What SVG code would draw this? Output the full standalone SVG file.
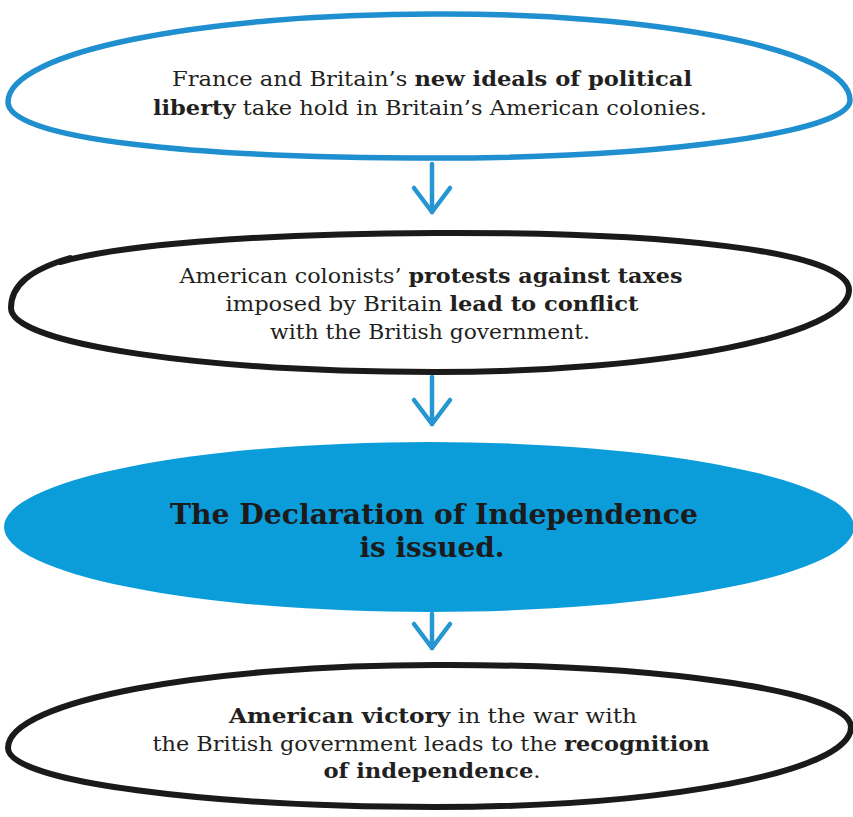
<svg xmlns="http://www.w3.org/2000/svg" width="853" height="817" viewBox="0 0 853 817">
<defs>
<style>
.bg{fill:#ffffff}
.outline-blue{fill:none;stroke:#1f8fcf;stroke-width:5.5;stroke-linecap:round;stroke-linejoin:round}
.outline-black{fill:none;stroke:#1a1a1a;stroke-width:6;stroke-linecap:round;stroke-linejoin:round}
.filled{fill:#0b9cda}
.conn{fill:none;stroke:#2596d1;stroke-width:4.5;stroke-linecap:round}
.txt{font-family:"DejaVu Serif","Liberation Serif",serif;font-size:20px;fill:#231f20;text-anchor:middle}
.b{font-weight:bold}
.title{font-family:"DejaVu Serif","Liberation Serif",serif;font-size:27px;font-weight:bold;fill:#1c1a1b;text-anchor:middle}
</style>
<marker id="head" viewBox="0 0 30 40" markerWidth="30" markerHeight="40" refX="26" refY="20" orient="auto" markerUnits="userSpaceOnUse" overflow="visible">
<path d="M2,2 L26,20 L2,38" fill="none" stroke="#2596d1" stroke-width="4.5" stroke-linecap="round" stroke-linejoin="round"/>
</marker>
</defs>
<rect class="bg" x="0" y="0" width="853" height="817"/>

<g id="connectors">
<path class="conn" d="M432,164 L432,212" marker-end="url(#head)"/>
<path class="conn" d="M432,377 L432,424" marker-end="url(#head)"/>
<path class="conn" d="M432,614 L432,648" marker-end="url(#head)"/>
</g>

<g id="node1">
<path class="outline-blue" d="M8,102 C8,52 200,14 435,14 C650,13 849,48 850,100 C851,132 664,158 435,158 C200,158 8,140 8,102 Z"/>
<text class="txt" x="432" y="86" textLength="520" lengthAdjust="spacingAndGlyphs">France and Britain’s <tspan class="b">new ideals of political</tspan></text>
<text class="txt" x="430" y="115" textLength="554" lengthAdjust="spacingAndGlyphs"><tspan class="b">liberty</tspan> take hold in Britain’s American colonies.</text>
</g>

<g id="node2">
<path class="outline-black" d="M60,262 C120,245 250,234 435,233 C660,232 849,250 849,290 C849,335 664,372 435,372 C210,372 11,345 11,308 C11,285 30,270 70,258"/>
<text class="txt" x="431" y="283" textLength="503" lengthAdjust="spacingAndGlyphs">American colonists’ <tspan class="b">protests against taxes</tspan></text>
<text class="txt" x="432" y="311" textLength="413" lengthAdjust="spacingAndGlyphs">imposed by Britain <tspan class="b">lead to conflict</tspan></text>
<text class="txt" x="430" y="339" textLength="320" lengthAdjust="spacingAndGlyphs">with the British government.</text>
</g>

<g id="node3">
<ellipse class="filled" cx="429" cy="527" rx="425" ry="85"/>
<text class="title" x="434" y="524" textLength="528" lengthAdjust="spacingAndGlyphs">The Declaration of Independence</text>
<text class="title" x="432" y="557" textLength="145" lengthAdjust="spacingAndGlyphs">is issued.</text>
</g>

<g id="node4">
<path class="outline-black" d="M8,748 C8,700 210,665 435,665 C650,664 851,690 851,727 C851,772 664,807 435,807 C210,807 8,782 8,748 Z"/>
<text class="txt" x="433" y="723" textLength="408" lengthAdjust="spacingAndGlyphs"><tspan class="b">American victory</tspan> in the war with</text>
<text class="txt" x="431" y="751" textLength="557" lengthAdjust="spacingAndGlyphs">the British government leads to the <tspan class="b">recognition</tspan></text>
<text class="txt" x="432" y="778" textLength="217" lengthAdjust="spacingAndGlyphs"><tspan class="b">of independence</tspan>.</text>
</g>
</svg>
